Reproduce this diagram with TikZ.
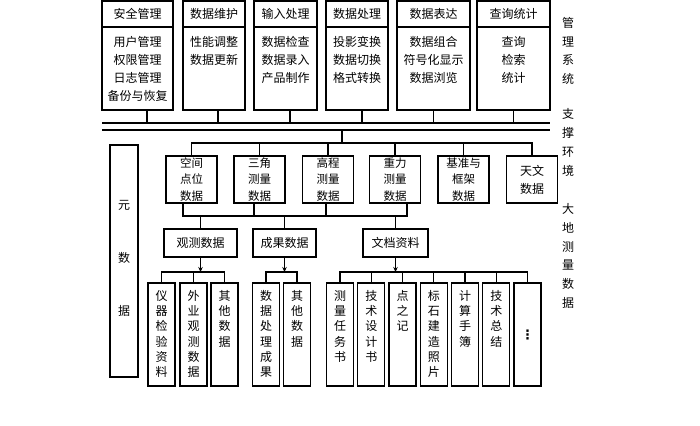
\documentclass[tikz,border=0pt]{standalone}
\usepackage{fontspec}
\setmainfont{Noto Sans CJK SC}
\newfontfamily\dejavu{DejaVu Sans}
\usetikzlibrary{arrows.meta}
\tikzset{
  box/.style={draw, line width=1.1pt, inner sep=0pt, outer sep=0pt},
  hdr/.style={box, minimum height=26pt, font=\fontsize{12pt}{14pt}\selectfont},
  bodybox/.style={box, minimum height=83pt},
  bodytxt/.style={inner sep=0pt, align=center, font=\fontsize{12pt}{18pt}\selectfont},
  midbox/.style={box, minimum width=51pt, minimum height=47pt, align=center, font=\fontsize{11.5pt}{16.5pt}\selectfont},
  catbox/.style={box, minimum height=28pt, font=\fontsize{12pt}{14pt}\selectfont},
  leafbox/.style={box, minimum width=27pt, minimum height=103pt},
  vtxt/.style={inner sep=0pt, align=center, font=\fontsize{12pt}{15.3pt}\selectfont},
  sidetxt/.style={inner sep=0pt, align=center, font=\fontsize{12pt}{18.7pt}\selectfont},
  conn/.style={line width=1.1pt},
  arr/.style={line width=1.1pt, -{Stealth[length=5pt,width=4.5pt]}}
}
\begin{document}
\begin{tikzpicture}[x=1pt,y=-1pt]
\useasboundingbox[fill=white] (0,0) rectangle (700,425);

% ---- top management boxes
\node[hdr, minimum width=71pt, anchor=north west] (hA) at (102,1) {安全管理};
\node[bodybox, minimum width=71pt, anchor=north] (bA) at (hA.south) {};
\node[bodytxt, anchor=north] (tA) at ([yshift=-9pt]bA.north) {用户管理\\权限管理\\日志管理\\备份与恢复};

\node[hdr, minimum width=62pt, anchor=north west] (hB) at (183,1) {数据维护};
\node[bodybox, minimum width=62pt, anchor=north] (bB) at (hB.south) {};
\node[bodytxt, anchor=north] (tB) at ([yshift=-9pt]bB.north) {性能调整\\数据更新};

\node[hdr, minimum width=63pt, anchor=north west] (hC) at (254,1) {输入处理};
\node[bodybox, minimum width=63pt, anchor=north] (bC) at (hC.south) {};
\node[bodytxt, anchor=north] (tC) at ([yshift=-9pt]bC.north) {数据检查\\数据录入\\产品制作};

\node[hdr, minimum width=62pt, anchor=north west] (hD) at (326,1) {数据处理};
\node[bodybox, minimum width=62pt, anchor=north] (bD) at (hD.south) {};
\node[bodytxt, anchor=north] (tD) at ([yshift=-9pt]bD.north) {投影变换\\数据切换\\格式转换};

\node[hdr, minimum width=73pt, anchor=north west] (hE) at (397,1) {数据表达};
\node[bodybox, minimum width=73pt, anchor=north] (bE) at (hE.south) {};
\node[bodytxt, anchor=north] (tE) at ([yshift=-9pt]bE.north) {数据组合\\符号化显示\\数据浏览};

\node[hdr, minimum width=73pt, anchor=north west] (hF) at (477,1) {查询统计};
\node[bodybox, minimum width=73pt, anchor=north] (bF) at (hF.south) {};
\node[bodytxt, anchor=north] (tF) at ([yshift=-9pt]bF.north) {查询\\检索\\统计};

% ---- support bus
\coordinate (busL1) at (102,123);
\coordinate (busR1) at (550,123);
\coordinate (busL2) at (102,130);
\coordinate (busR2) at (550,130);
\draw[conn] (busL1) -- (busR1);
\draw[conn] (busL2) -- (busR2);
\draw[conn] ([xshift=9.5pt]bA.south) -- ([xshift=9.5pt]bA.south |- busL1);
\draw[conn] ([xshift=4pt]bB.south) -- ([xshift=4pt]bB.south |- busL1);
\draw[conn] ([xshift=4.5pt]bC.south) -- ([xshift=4.5pt]bC.south |- busL1);
\draw[conn] ([xshift=5pt]bD.south) -- ([xshift=5pt]bD.south |- busL1);
\draw[conn] (bE.south) -- (bE.south |- busL1);
\draw[conn] (bF.south) -- (bF.south |- busL1);

% ---- metadata box
\node[box, minimum width=28pt, minimum height=232pt, anchor=north west] (meta) at (110,145) {};
\node[inner sep=0pt, align=center, font=\fontsize{12pt}{53pt}\selectfont] (metat) at ([yshift=2.5pt]meta.center) {元\\数\\据};

% ---- data type boxes
\node[midbox, anchor=north] (s1) at (191.5,156) {空间\\点位\\数据};
\node[midbox, anchor=north] (s2) at (259.5,156) {三角\\测量\\数据};
\node[midbox, anchor=north] (s3) at (328,156) {高程\\测量\\数据};
\node[midbox, anchor=north] (s4) at (395,156) {重力\\测量\\数据};
\node[midbox, anchor=north] (s5) at (463.5,156) {基准与\\框架\\数据};
\node[midbox, anchor=north, font=\fontsize{12pt}{18pt}\selectfont] (s6) at (532,156) {天文\\数据};

\coordinate (busM) at (342,130);
\coordinate (j2) at (342,143);
\draw[conn] (busM) -- (j2);
\draw[conn] (s1.north) -- (s1.north |- j2) -- (s6.north |- j2) -- (s6.north);
\draw[conn] (s2.north) -- (s2.north |- j2);
\draw[conn] (s3.north) -- (s3.north |- j2);
\draw[conn] (s4.north) -- (s4.north |- j2);
\draw[conn] (s5.north) -- (s5.north |- j2);

% ---- category boxes
\coordinate (j3) at (300,216);
\draw[conn] ([xshift=-8.5pt]s1.south) -- ([xshift=-8.5pt]s1.south |- j3) -- ([xshift=12pt]s4.south |- j3) -- ([xshift=12pt]s4.south);
\draw[conn] ([xshift=-5.5pt]s2.south) -- ([xshift=-5.5pt]s2.south |- j3);
\draw[conn] ([xshift=-2pt]s3.south) -- ([xshift=-2pt]s3.south |- j3);

\node[catbox, minimum width=73pt, anchor=north] (t1) at (200.5,229) {观测数据};
\node[catbox, minimum width=63pt, anchor=north] (t2) at (284.5,229) {成果数据};
\node[catbox, minimum width=65pt, anchor=north] (t3) at (395.5,229) {文档资料};
\draw[conn] (t1.north) -- (t1.north |- j3);
\draw[conn] (t2.north) -- (t2.north |- j3);
\draw[conn] (t3.north) -- (t3.north |- j3);

% ---- leaf boxes
\coordinate (j4) at (300,272);
\draw[arr] (t1.south) -- (t1.south |- j4);
\draw[arr] (t2.south) -- (t2.south |- j4);
\draw[arr] (t3.south) -- (t3.south |- j4);

\node[leafbox, anchor=north] (q1) at (161.5,283) {};
\node[leafbox, anchor=north] (q2) at (193.5,283) {};
\node[leafbox, anchor=north] (q3) at (224.5,283) {};
\node[leafbox, anchor=north] (r1) at (266,283) {};
\node[leafbox, anchor=north] (r2) at (297,283) {};
\node[leafbox, anchor=north] (w1) at (340,283) {};
\node[leafbox, anchor=north] (w2) at (371.25,283) {};
\node[leafbox, anchor=north] (w3) at (402.5,283) {};
\node[leafbox, anchor=north] (w4) at (433.75,283) {};
\node[leafbox, anchor=north] (w5) at (465,283) {};
\node[leafbox, anchor=north] (w6) at (496.25,283) {};
\node[leafbox, anchor=north] (w7) at (527.5,283) {};

\node[vtxt, anchor=north] at ([yshift=-7pt]q1.north) {仪\\器\\检\\验\\资\\料};
\node[vtxt, anchor=north] at ([yshift=-7pt]q2.north) {外\\业\\观\\测\\数\\据};
\node[vtxt, anchor=north] at ([yshift=-7pt]q3.north) {其\\他\\数\\据};
\node[vtxt, anchor=north] at ([yshift=-7pt]r1.north) {数\\据\\处\\理\\成\\果};
\node[vtxt, anchor=north] at ([yshift=-7pt]r2.north) {其\\他\\数\\据};
\node[vtxt, anchor=north] at ([yshift=-7pt]w1.north) {测\\量\\任\\务\\书};
\node[vtxt, anchor=north] at ([yshift=-7pt]w2.north) {技\\术\\设\\计\\书};
\node[vtxt, anchor=north] at ([yshift=-7pt]w3.north) {点\\之\\记};
\node[vtxt, anchor=north] at ([yshift=-7pt]w4.north) {标\\石\\建\\造\\照\\片};
\node[vtxt, anchor=north] at ([yshift=-7pt]w5.north) {计\\算\\手\\簿};
\node[vtxt, anchor=north] at ([yshift=-7pt]w6.north) {技\\术\\总\\结};
\node[inner sep=0pt, font=\dejavu\bfseries\fontsize{13pt}{14pt}\selectfont] at (527.5,335) {⋮};

\draw[conn] (q1.north) -- (q1.north |- j4) -- (q3.north |- j4) -- (q3.north);
\draw[conn] (q2.north) -- (q2.north |- j4);
\draw[conn] (r1.north) -- (r1.north |- j4) -- (r2.north |- j4) -- (r2.north);
\draw[conn] (w1.north) -- (w1.north |- j4) -- (w7.north |- j4) -- (w7.north);
\draw[conn] (w2.north) -- (w2.north |- j4);
\draw[conn] (w3.north) -- (w3.north |- j4);
\draw[conn] (w4.north) -- (w4.north |- j4);
\draw[conn] (w5.north) -- (w5.north |- j4);
\draw[conn] (w6.north) -- (w6.north |- j4);

% ---- side labels
\node[sidetxt] (lab1) at (568,51) {管\\理\\系\\统};
\node[sidetxt] (lab2) at (568,142.5) {支\\撑\\环\\境};
\node[sidetxt] (lab3) at (568,256) {大\\地\\测\\量\\数\\据};
\end{tikzpicture}
\end{document}
